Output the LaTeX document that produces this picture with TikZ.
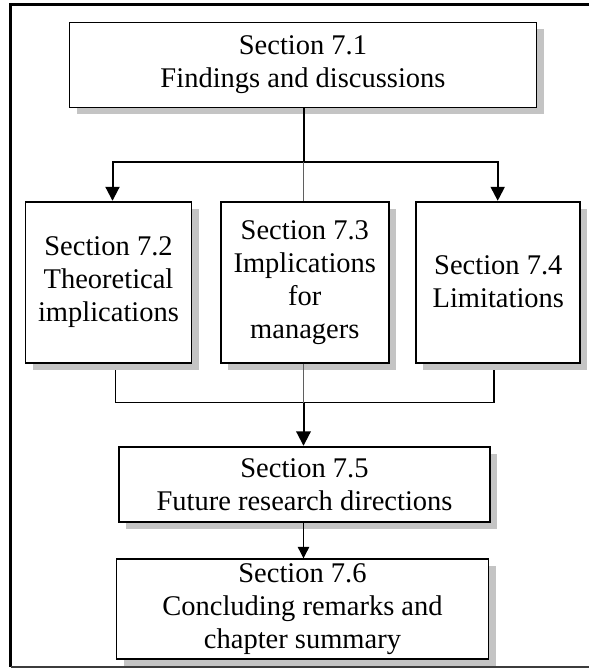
\documentclass[tikz,border=0pt]{standalone}
\usepackage{fontspec}
\setmainfont{Liberation Serif}
\usetikzlibrary{arrows.meta,shadows}
\definecolor{shadowgray}{RGB}{196,196,196}
\definecolor{framegray}{RGB}{60,60,60}
\definecolor{stemgray}{RGB}{95,95,95}
\tikzset{
  secbox/.style={draw=black, line width=1.8pt, fill=white, inner sep=0pt, align=center,
    font=\fontsize{28.5}{33}\selectfont,
    general shadow={fill=shadowgray, shadow xshift=7pt, shadow yshift=-7pt}},
  heavy/.style={line width=2pt},
  light/.style={line width=1.1pt},
  stem/.style={line width=1.2pt, draw=stemgray},
  bigtip/.style={-{Triangle[width=14.5pt,length=14.5pt]}},
  bothtips/.style={{Triangle[width=14pt,length=14pt]}-{Triangle[width=14pt,length=14pt]}},
  smalltip/.style={-{Triangle[width=11.5pt,length=11.5pt]}},
}
\begin{document}
\begin{tikzpicture}[x=1pt,y=-1pt]
\useasboundingbox (0,0) rectangle (589,668);

% section boxes
\node[secbox, minimum width=467pt, minimum height=85pt] (s1) at (303,65)
  {Section 7.1\\Findings and discussions};
\node[secbox, minimum width=166pt, minimum height=161pt] (s2) at (108.5,282.2)
  {Section 7.2\\Theoretical\\implications};
\node[secbox, minimum width=168pt, minimum height=161pt] (s3) at (304.8,282.2)
  {Section 7.3\\Implications\\for\\managers};
\node[secbox, minimum width=164pt, minimum height=161pt] (s4) at (498.3,282.2)
  {Section 7.4\\Limitations};
\node[secbox, minimum width=371.5pt, minimum height=75pt] (s5) at (304.5,484.2)
  {Section 7.5\\Future research directions};
\node[secbox, minimum width=372pt, minimum height=100pt] (s6) at (302.5,609.2)
  {Section 7.6\\Concluding remarks and\\chapter summary};

% fork below 7.1
\coordinate (fork) at (303.5,161.7);
\coordinate (forkL) at (112.5,161.7);
\coordinate (forkR) at (497.7,161.7);
\draw[heavy] (fork |- s1.south) -- (fork);
\draw[heavy, bothtips] (forkL |- s2.north) -- (forkL) -- (forkR) -- (forkR |- s4.north);
\draw[stem] (fork) -- (fork |- s3.north);

% join above 7.5
\coordinate (joinL) at (115.7,370);
\coordinate (joinR) at (494,370);
\coordinate (join) at (303.5,402.7);
\draw[light] (joinL) -- (joinL |- join) -- (joinR |- join) -- (joinR);
\draw[stem] (join |- s3.south) -- (join);
\draw[heavy, bigtip] (join) -- (join |- s5.north);
\draw[light, smalltip] (join |- s5.south) -- (join |- s6.north);

% outer frame
\draw[line width=3pt] (589,5) -- (10.5,5) -- (10.5,667);
\draw[line width=1.5pt, framegray] (10.5,667) -- (589,667);
\end{tikzpicture}
\end{document}
